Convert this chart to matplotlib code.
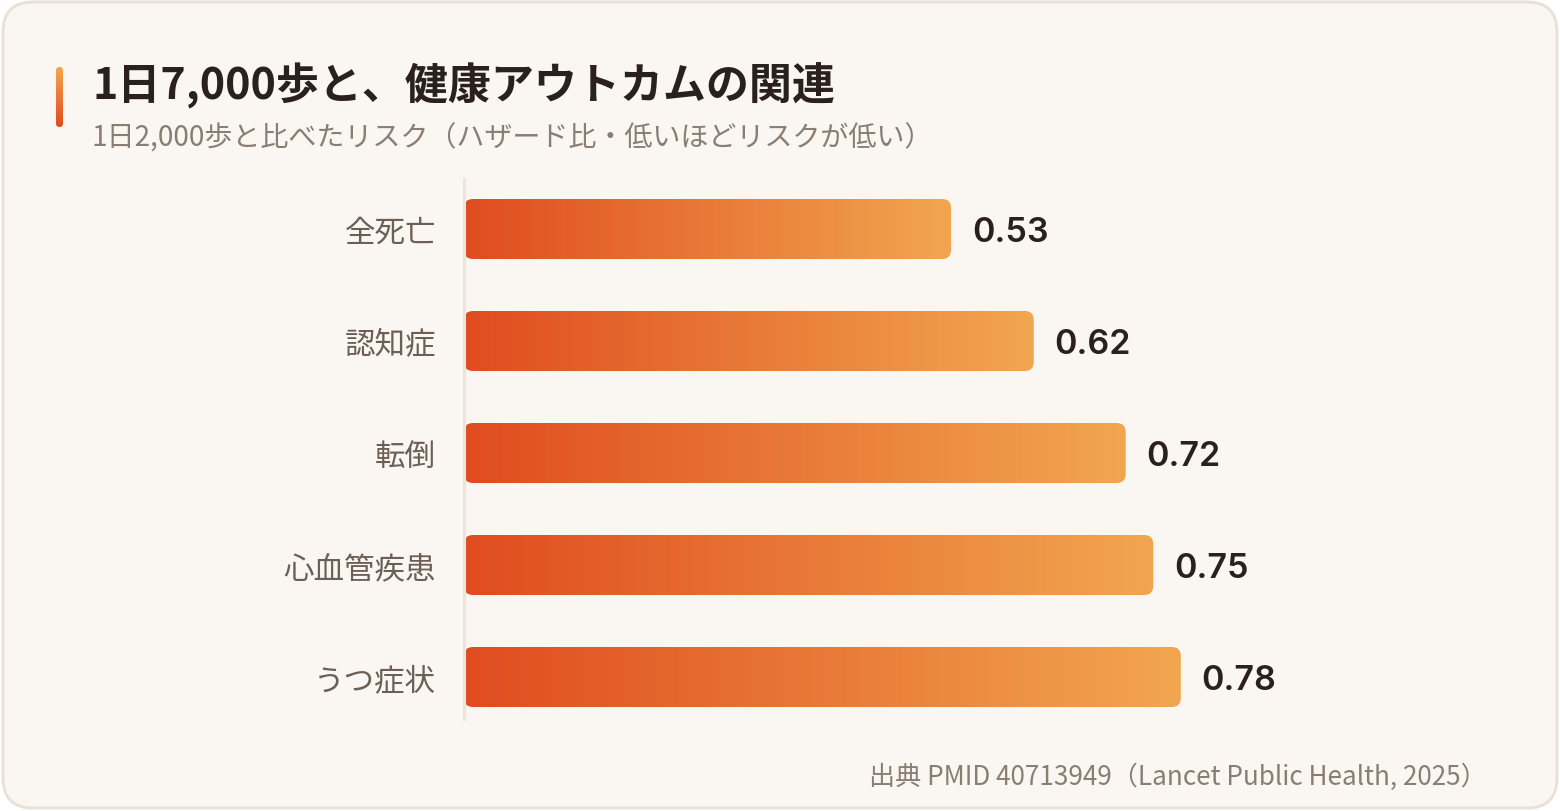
import matplotlib
matplotlib.use('Agg')
import matplotlib.pyplot as plt
import numpy as np
from matplotlib.colors import LinearSegmentedColormap
from matplotlib.patches import FancyBboxPatch

plt.rcParams['font.family'] = ['Noto Sans CJK JP', 'DejaVu Sans']

# data
categories = ['全死亡', '認知症', '転倒', '心血管疾患', 'うつ症状']
hazard_ratios = [0.53, 0.62, 0.72, 0.75, 0.78]

title = '1日7,000歩と、健康アウトカムの関連'
subtitle = '1日2,000歩と比べたリスク（ハザード比・低いほどリスクが低い）'
source = '出典 PMID 40713949（Lancet Public Health, 2025）'

W, H = 1560, 812
BG = '#FAF7F2'
BORDER = '#EAE2D8'
DARK = '#2A211D'
MUTED = '#8A7D72'
LABEL = '#6B5F56'
grad = LinearSegmentedColormap.from_list('bar', ['#E04C20', '#F2A64F'])

fig = plt.figure(figsize=(W / 100, H / 100), dpi=100)
fig.patch.set_facecolor('white')

# background axes in pixel coordinates
bg = fig.add_axes([0, 0, 1, 1])
bg.set_xlim(0, W)
bg.set_ylim(H, 0)
bg.axis('off')
bg.add_patch(FancyBboxPatch((3, 3), W - 6, H - 6,
                            boxstyle='round,pad=0,rounding_size=30',
                            facecolor=BG, edgecolor=BORDER, linewidth=2.2))

# accent bar next to the title
acc = FancyBboxPatch((56, 68), 7, 60, boxstyle='round,pad=0,rounding_size=3.5',
                     facecolor='none', edgecolor='none')
bg.add_patch(acc)
im = bg.imshow(np.linspace(1, 0, 64).reshape(-1, 1), cmap=grad, aspect='auto',
               extent=[56, 63, 128, 68], zorder=2)
im.set_clip_path(acc)
bg.set_xlim(0, W)
bg.set_ylim(H, 0)

bg.text(92, 86, title, fontsize=31, fontweight='bold', color=DARK,
        ha='left', va='center')
bg.text(91, 138, subtitle, fontsize=20.2, color=MUTED, ha='left', va='center')
bg.text(1487, 777, source, fontsize=18.8, color=MUTED, ha='right', va='center')

# bar chart axes: x=0 at px 464, 919 px per unit; y from px 180 to 720
px_per_x = 919
px_per_y = 112
y_top = -50 / px_per_y
y_bot = 4 + 42 / px_per_y
ax = fig.add_axes([464 / W, (H - 720) / H, px_per_x / W, 540 / H])
ax.patch.set_alpha(0)

bar_h = 60 / px_per_y
ypos = np.arange(len(categories))
for y, v in zip(ypos, hazard_ratios):
    patch = FancyBboxPatch((0, y - bar_h / 2), v, bar_h,
                           boxstyle='round,pad=0,rounding_size=%f' % (9 / px_per_x),
                           mutation_aspect=px_per_x / px_per_y,
                           facecolor='none', edgecolor='none')
    ax.add_patch(patch)
    img = ax.imshow(np.linspace(0, 1, 256).reshape(1, -1), cmap=grad, aspect='auto',
                    extent=[0, v, y + bar_h / 2, y - bar_h / 2], zorder=2)
    img.set_clip_path(patch)
    ax.annotate(f'{v:.2f}', (v, y), xytext=(15, -2), textcoords='offset points',
                ha='left', va='center', fontsize=24.5, fontweight='semibold', color=DARK,
                family=['Inter', 'Noto Sans CJK JP'])

ax.set_xlim(0, 1)
ax.set_ylim(y_bot, y_top)
ax.set_yticks(ypos)
ax.set_yticklabels(categories, fontsize=22, color=LABEL)
ax.tick_params(axis='y', length=0, pad=20)
ax.set_xticks([])
for side in ['top', 'right', 'bottom']:
    ax.spines[side].set_visible(False)
ax.spines['left'].set_color('#ECE5DC')
ax.spines['left'].set_linewidth(2.2)

fig.savefig('out.png', dpi=100, facecolor=fig.get_facecolor())
